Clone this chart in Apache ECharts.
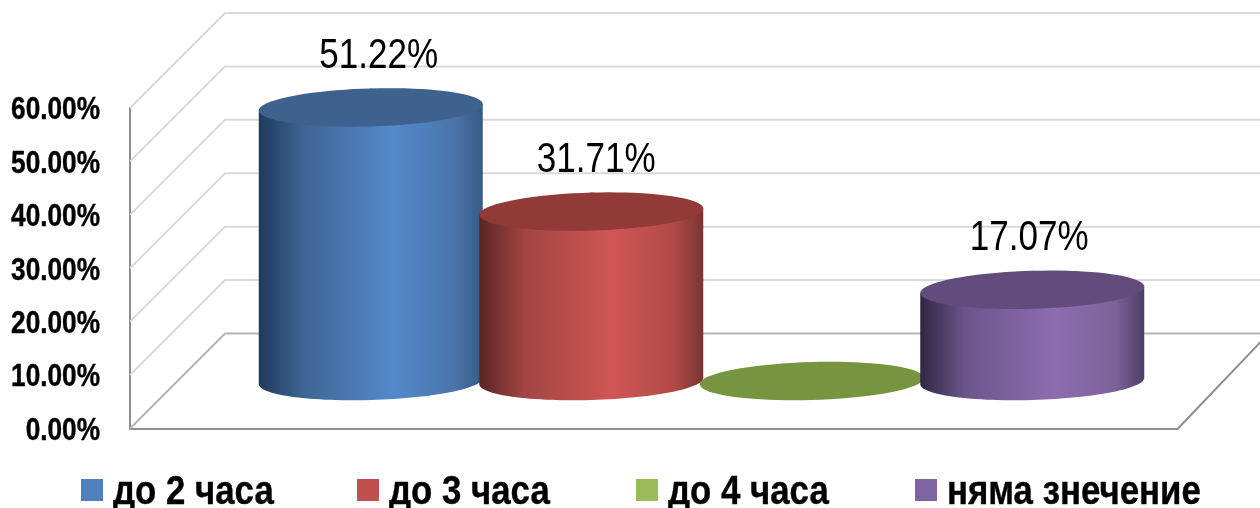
<!DOCTYPE html>
<html><head><meta charset="utf-8">
<style>html,body{margin:0;padding:0;background:#fff}#c{width:1260px;height:508px}</style>
<script src="https://cdn.jsdelivr.net/npm/echarts@6/dist/echarts.min.js"></script>
</head><body><div id="c"></div>
<script>
const seriesNames = ['до 2 часа', 'до 3 часа', 'до 4 часа', 'няма знечение'];
const seriesValues = [51.22, 31.71, 0, 17.07];
const labelTexts = ['51.22%', '31.71%', '', '17.07%'];
const tickValues = [0, 10, 20, 30, 40, 50, 60];
const legendColors = ['#4F81BD', '#C0504D', '#9BBB59', '#8064A2'];
const topColors = ['#3F618E', '#923A38', '#779441', '#624C7C'];
const bodyStops = [
  ['#1F3A5C', '#3E6594', '#5589CB', '#4A75AA', '#365A85'],
  ['#5A2524', '#A24543', '#D05654', '#B04A48', '#7A3432'],
  ['#779441', '#779441', '#779441', '#779441', '#779441'],
  ['#2F2644', '#6B558A', '#8D6CB0', '#7C6299', '#4F3E68']
];
const FONT = '"Liberation Sans",Arial,sans-serif';
const DEPTH = 95, TILT = Math.tan(1.6 * Math.PI / 180);
const labelShift = [8, 5, 0, -3];
const legendSwatchX = [81, 357, 636, 915];

const chart = echarts.init(document.getElementById('c'), null, {renderer: 'canvas'});

function arc(cx, cy, rx, ry, from, to, n) {
  const pts = [];
  for (let i = 0; i <= n; i++) {
    const t = from + (to - from) * i / n;
    pts.push([cx + rx * Math.cos(t), cy + ry * Math.sin(t) - rx * Math.cos(t) * TILT]);
  }
  return pts;
}

function cylinder(idx) {
  return function (params, api) {
    const cat = api.value(0), val = api.value(1);
    const top = api.coord([cat, val]), base = api.coord([cat, 0]);
    const rx = api.size([1, 0])[0] / 2 + 1.75, ry = 19;
    const cx = top[0];
    const stops = bodyStops[idx];
    const children = [];
    if (val > 0) {
      const body = [...arc(cx, top[1], rx, ry, Math.PI, 2 * Math.PI, 2), ...arc(cx, base[1], rx, ry, 0, Math.PI, 60)];
      children.push({
        type: 'polygon', shape: {points: body},
        style: {fill: new echarts.graphic.LinearGradient(0, 0, 1, 0, [
          {offset: 0, color: stops[0]}, {offset: 0.2, color: stops[1]},
          {offset: 0.6, color: stops[2]}, {offset: 0.87, color: stops[3]}, {offset: 1, color: stops[4]}
        ])}
      });
    }
    children.push({
      type: 'polygon', shape: {points: arc(cx, top[1], rx, ry, 0, 2 * Math.PI, 80)},
      style: {fill: topColors[idx]}
    });
    if (labelTexts[idx]) {
      children.push({
        type: 'text', x: cx + labelShift[idx], y: top[1] - 51, scaleX: 0.835,
        style: {text: labelTexts[idx], fill: '#000', font: '400 42px ' + FONT, align: 'center', verticalAlign: 'middle'}
      });
    }
    return {type: 'group', children};
  };
}

function wall(params, api) {
  const v = api.value(0), p = api.coord([0, v]);
  const right = api.getWidth();
  const color = v === 0 ? '#B4B4B4' : '#D9D9D9';
  const children = [{
    type: 'polyline',
    shape: {points: [p, [p[0] + DEPTH, p[1] - DEPTH], [right, p[1] - DEPTH]]},
    style: {stroke: color, lineWidth: 2, fill: null}
  }, {
    type: 'text', x: p[0] - 30, y: p[1] + 3, scaleX: 0.86,
    style: {text: v.toFixed(2) + '%', fill: '#000', stroke: '#000', lineWidth: 0.4, font: 'bold 30.5px ' + FONT, align: 'right', verticalAlign: 'middle'}
  }];
  if (v === 0) {
    const e = api.coord([1, 0]);
    children.push({
      type: 'line', shape: {x1: e[0], y1: e[1], x2: e[0] + 84, y2: e[1] - 88},
      style: {stroke: '#8E8E8E', lineWidth: 2}
    });
  }
  return {type: 'group', children};
}

chart.setOption({
  animation: false,
  backgroundColor: '#fff',
  graphic: {elements: seriesNames.flatMap((n, i) => [
    {type: 'rect', shape: {x: legendSwatchX[i], y: 479, width: 22, height: 22}, style: {fill: legendColors[i]}},
    {type: 'text', x: legendSwatchX[i] + 32, y: 492.5, scaleX: 0.87,
     style: {text: n, fill: '#000', stroke: '#000', lineWidth: 0.4, font: 'bold 40px ' + FONT, align: 'left', verticalAlign: 'middle'}}
  ])},
  grid: [
    {left: 130, top: 108, width: 1048, height: 320.5},
    {left: 260.5, top: 60.5, width: 882, height: 320.5}
  ],
  xAxis: [
    {gridIndex: 0, type: 'value', min: 0, max: 1, axisLabel: {show: false}, axisTick: {show: false},
     splitLine: {show: false}, axisLine: {show: true, lineStyle: {color: '#8E8E8E', width: 2}}},
    {gridIndex: 1, type: 'category', data: seriesNames, show: false}
  ],
  yAxis: [
    {gridIndex: 0, type: 'value', min: 0, max: 60, interval: 10,
     axisLine: {show: true, lineStyle: {color: '#8E8E8E', width: 2}}, axisTick: {show: false},
     splitLine: {show: false}, axisLabel: {show: false}},
    {gridIndex: 1, type: 'value', min: 0, max: 60, interval: 10, show: false}
  ],
  series: [
    {type: 'custom', name: 'walls', xAxisIndex: 0, yAxisIndex: 0, z: 1, silent: true,
     data: tickValues.map(v => [v]), renderItem: wall, encode: {y: 0}},
    ...seriesNames.map((n, i) => ({
      type: 'custom', name: n, xAxisIndex: 1, yAxisIndex: 1, z: 3 + i,
      itemStyle: {color: legendColors[i]},
      data: [[i, seriesValues[i]]],
      renderItem: cylinder(i),
      encode: {x: 0, y: 1}
    }))
  ]
});
</script></body></html>
